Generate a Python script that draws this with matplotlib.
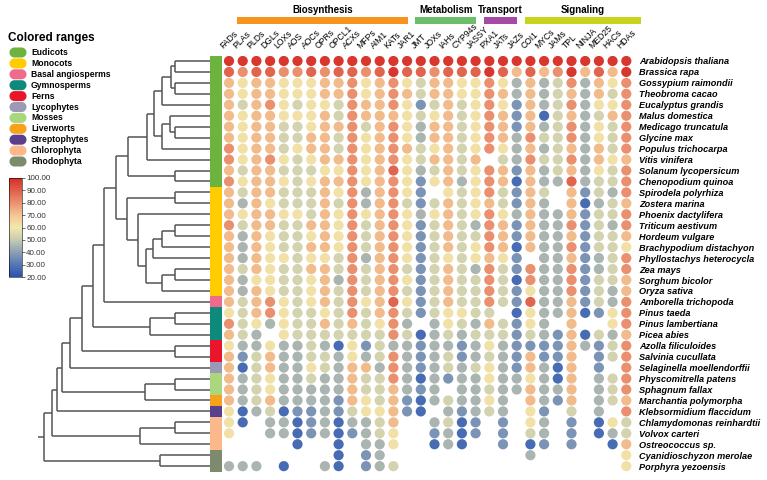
import numpy as np
import matplotlib
matplotlib.use("Agg")
import matplotlib.pyplot as plt
from matplotlib.colors import LinearSegmentedColormap, Normalize
from matplotlib.cm import ScalarMappable
from matplotlib.path import Path

plt.rcParams['font.family'] = ['Liberation Sans', 'DejaVu Sans']

W, H = 767, 480

genes = ["FADs", "PLAs", "PLDs", "DGLs", "LOXs", "AOS", "AOCs", "OPRs", "OPCL1",
         "ACXs", "MFPs", "AIM1", "KATs", "JAR1", "JMT", "JOXs", "IAHs", "CYP94s",
         "JASSY", "PXA1", "JATs", "JAZs", "COI1", "MYCs", "JAMs", "TPL", "NINJA",
         "MED25", "HACs", "HDAs"]

# name, first column, last column, colour
groups = [("Biosynthesis", 0, 12, "#f7941d"),
          ("Metabolism", 13, 17, "#6cbf6a"),
          ("Transport", 18, 20, "#a54ba3"),
          ("Signaling", 21, 29, "#c6d41c")]

species = ["Arabidopsis thaliana", "Brassica rapa", "Gossypium raimondii",
           "Theobroma cacao", "Eucalyptus grandis", "Malus domestica",
           "Medicago truncatula", "Glycine max", "Populus trichocarpa",
           "Vitis vinifera", "Solanum lycopersicum", "Chenopodium quinoa",
           "Spirodela polyrhiza", "Zostera marina", "Phoenix dactylifera",
           "Triticum aestivum", "Hordeum vulgare", "Brachypodium distachyon",
           "Phyllostachys heterocycla", "Zea mays", "Sorghum bicolor",
           "Oryza sativa", "Amborella trichopoda", "Pinus taeda",
           "Pinus lambertiana", "Picea abies", "Azolla filiculoides",
           "Salvinia cucullata", "Selaginella moellendorffii",
           "Physcomitrella patens", "Sphagnum fallax", "Marchantia polymorpha",
           "Klebsormidium flaccidum", "Chlamydomonas reinhardtii",
           "Volvox carteri", "Ostreococcus sp.", "Cyanidioschyzon merolae",
           "Porphyra yezoensis"]

clades = ["Eudicots", "Monocots", "Basal angiosperms", "Gymnosperms", "Ferns",
          "Lycophytes", "Mosses", "Liverworts", "Streptophytes", "Chlorophyta",
          "Rhodophyta"]
clade_colors = ["#6db33f", "#ffcc00", "#ef6a8c", "#0d8a7c", "#e8152b",
                "#9b99b6", "#aad77e", "#f7a21b", "#5a3f8d", "#fbb98b", "#7d8a6d"]
clade_sizes = [12, 10, 1, 3, 2, 1, 2, 1, 1, 3, 2]

# identity levels (percent), "." = no homolog
level = {"R": 98, "r": 89, "o": 80, "p": 72, "y": 62, "g": 53,
         "s": 45, "b": 37, "B": 27}
rows = [
    "RRRRRRRRRRRRR|RRRRRRRRRRRRRR|RRR",
    "rorroororrorR|rrorrrRrprpoRp|rpR",
    "pyppyyyppoypo|ygppyyoyspsgos|pyo",
    "pyppyyyppoypo|pgppyyopspsgps|pgo",
    "pgpoygyygoppo|ybgpgyoybpsgos|yyo",
    "pyppyyypgoppp|ygypgyopbpBgps|gpo",
    "pyppggyppogpo|ysppgyopbpsgos|ygo",
    "pyppggppgoypo|ysppgyopsoggos|ygo",
    "oyppgyppgoypo|pgypgyoyspsgps|pgo",
    "oypoygyppoypo|ygppgp.gsoggos|pyp",
    "pgppgggyyoypr|ysgpgyopbpsgps|ygo",
    "oyppygyppoypo|ybypsyopBpssrs|ggo",
    "pgppgggpyospo|yb.ygyogbpg.pb|gso",
    "pspygggpgospo|gbgpgypgbps.pB|sgp",
    "pyppyygpyoypo|ysypgyoyspsspb|ggo",
    "ogppggppyogpo|ybgpgsopbpssob|gso",
    "pspyggypyogpo|ybgpggopbpsspb|ggp",
    "pspyggppyogpo|ybgpgyopBpssob|ggy",
    "pspyygyygospo|ybgygypyb.sspb|sgo",
    "pgpyggppgogpo|gbgpgsogbossob|sgo",
    "psyyggypsogpo|ybgpggogBossob|ggp",
    "pspyggypgogpo|gbgpggogbyssob|gsp",
    "pgpoygypgoypr|ybgpggogbrsspb|gso",
    "ygpoyggygogpo|gbgyygg.BysspB|byo",
    "ogysyggpgpgyo|s.sygspgbys.p.|.yo",
    "pgs.ygggggggo|gBsgsgggbgsbpB|gsp",
    "yssyssgsBybgs|sbssbsysbbbbps|bgo",
    "pbgpssggsysgo|sbsgbsgsbpbbp.|bgo",
    "pBgpssygsppso|sbsgsgysbpsBp.|b.o",
    "psgyssgsspggo|sBsbssyssysBp.|sgo",
    "psgyssssspggp|sbs.ssgsspssp.|sgo",
    "psgpssssbpygp|bBsgssys.psbp.|sgp",
    "yBsgBbbsbgyyp|bB.sbsgs.yb.g.|s.o",
    "yB.ssBbsBssgp|..sgBb.b.ys.b.|Byg",
    "y..ssBbsBbsgy|..bsBb.b.gs.b.|Bsg",
    ".....B..B.ssy|..BsB..b.Bb.b.|.Bp",
    "........B.bs.|.........s....|..y",
    "sss.B..sB.bsg|..............|..y",
]

# species tree: (branch x in px, child, child); leaves are species indices
eud_a = (162, (171, (175, 0, 1), (175, 2, 3)), 4)
eud_b = (162, (170, 5, (175, 6, 7)), 8)
eudicots = (128, (147, (154, eud_a, eud_b), 9), (175, 10, 11))
mono_a = (153, (162, (175, 15, 16), 17), 18)
mono_b = (162, (175, 19, 20), 21)
monocots = (127, (175, 12, 13), (138, 14, (146, mono_a, mono_b)))
angio = (104, (116, eudicots, monocots), 22)
seed = (93, angio, (150, (175, 23, 24), 25))
tracheo = (70, (82, seed, (175, 26, 27)), 28)
land = (62, tracheo, (145, (175, 29, 30), 31))
green = (52, (57, land, 32), (140, (175, 33, 34), 35))
tree = (44, green, (160, 36, 37))

values = np.array([[level.get(ch, np.nan) for ch in r.replace("|", "")] for r in rows])
n_rows, n_cols = values.shape

cmap = LinearSegmentedColormap.from_list("ident", [
    (0.000, "#2a52b0"), (0.125, "#5577b5"), (0.250, "#8c9fb5"),
    (0.375, "#c6cbb0"), (0.500, "#f2e8ad"), (0.625, "#f3c692"),
    (0.750, "#ea9170"), (0.875, "#e0604a"), (1.000, "#d62d2a")])
norm = Normalize(20, 100)

fig = plt.figure(figsize=(W / 100, H / 100), dpi=100)


def px_axes(x0, y0, x1, y1):
    return fig.add_axes([x0 / W, 1 - y1 / H, (x1 - x0) / W, (y1 - y0) / H])


row_top, row_h = 61, 10.95
col_left, col_w = 229, 13.7
y0 = row_top - row_h / 2
y1 = row_top + row_h * (n_rows - 0.5)

# dot heatmap
ax = px_axes(col_left - col_w / 2, y0, col_left + col_w * (n_cols - 0.5), y1)
rr, cc = np.nonzero(~np.isnan(values))
ax.scatter(cc, rr, c=values[rr, cc], cmap=cmap, norm=norm, s=54, linewidths=0)
ax.set_xlim(-0.5, n_cols - 0.5)
ax.set_ylim(n_rows - 0.5, -0.5)
ax.set_xticks([])
ax.yaxis.tick_right()
ax.set_yticks(range(n_rows))
ax.set_yticklabels(species, fontsize=6.6, fontstyle="italic", fontweight="bold")
ax.tick_params(axis="y", length=0, pad=4.5)
for s in ax.spines.values():
    s.set_visible(False)

for i, g in enumerate(genes):
    ax.text(i - 0.35, -1.0, g, rotation=45, rotation_mode="anchor",
            ha="left", va="bottom", fontsize=6.2)

for name, c0, c1, col in groups:
    ax.barh(-3.7, (c1 + 1.05) - (c0 + 0.6), left=c0 + 0.6, height=0.62,
            color=col, clip_on=False)
    ax.text((c0 + c1 + 1.65) / 2, -4.65, name, ha="center", va="center",
            fontsize=7, fontweight="bold")

# clade strip
ax_s = px_axes(210, y0, col_left - col_w / 2, y1)
ax_s.barh(range(n_rows), 1, height=1.0, color=np.repeat(clade_colors, clade_sizes))
ax_s.set_xlim(0, 1)
ax_s.set_ylim(n_rows - 0.5, -0.5)
ax_s.axis("off")

# dendrogram
ax_t = px_axes(0, y0, 210, y1)
ax_t.set_xlim(0, 210)
ax_t.set_ylim(n_rows - 0.5, -0.5)
ax_t.axis("off")
line_kw = dict(color="#555555", lw=1.1, solid_capstyle="butt")


def draw(node):
    if isinstance(node, int):
        return 210, node
    x, a, b = node
    xa, ya = draw(a)
    xb, yb = draw(b)
    ax_t.plot([x, xa], [ya, ya], **line_kw)
    ax_t.plot([x, xb], [yb, yb], **line_kw)
    ax_t.plot([x, x], [ya, yb], **line_kw)
    return x, (ya + yb) / 2


rx, ry = draw(tree)
ax_t.plot([rx - 6, rx], [ry, ry], **line_kw)

# clade legend
ax_l = px_axes(0, 28, 120, 170)
ax_l.set_xlim(0, 120)
ax_l.set_ylim(170, 28)
ax_l.axis("off")
th = np.linspace(-np.pi / 2, np.pi / 2, 20)
pill = np.concatenate([np.c_[0.35 + 0.5 * np.cos(th), 0.5 * np.sin(th)],
                       np.c_[-0.35 - 0.5 * np.cos(th), -0.5 * np.sin(th)]])
pill_marker = Path(np.vstack([pill, pill[:1]]), closed=True)
ax_l.text(8, 38, "Colored ranges", fontsize=8.5, fontweight="bold", va="center")
ypos = 52.5 + 10.9 * np.arange(len(clades))
ax_l.scatter(np.full(len(clades), 18), ypos, marker=pill_marker, s=150,
             c=clade_colors, linewidths=0)
for y, name in zip(ypos, clades):
    ax_l.text(31, y, name, fontsize=6.2, fontweight="bold", va="center")

# colour bar
cax = px_axes(9, 178, 22, 277)
cb = fig.colorbar(ScalarMappable(norm=norm, cmap=cmap), cax=cax,
                  ticks=range(20, 101, 10), format="%.2f")
cb.ax.tick_params(labelsize=5.8, length=2, width=0.5, pad=1, colors="#333333")
cb.outline.set_linewidth(0.4)

fig.savefig("out.png", dpi=100)
